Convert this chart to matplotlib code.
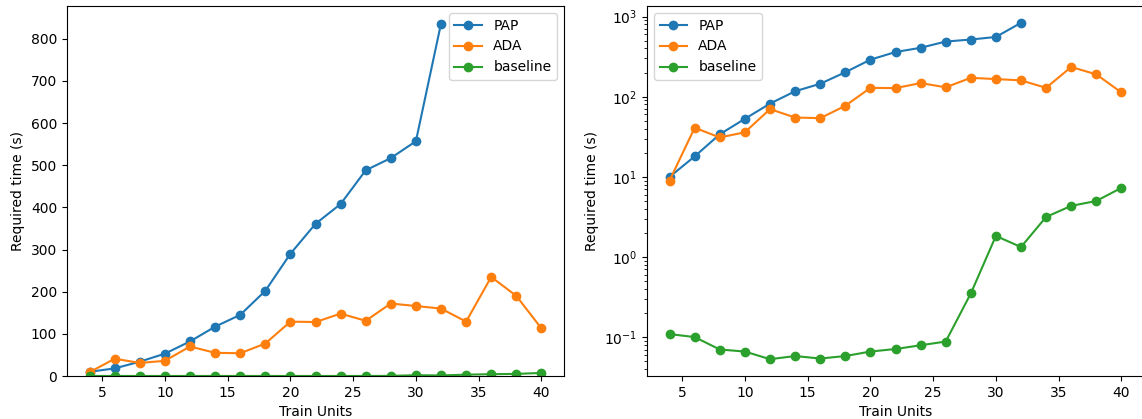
import matplotlib
matplotlib.use('Agg')
import matplotlib.pyplot as plt

units = [4, 6, 8, 10, 12, 14, 16, 18, 20, 22, 24, 26, 28, 30, 32, 34, 36, 38, 40]

pap_units = units[:15]
pap = [10, 18, 34, 53, 82, 117, 145, 202, 290, 361, 408, 488, 517, 557, 836]
ada = [9, 41, 31, 36, 70, 55, 54, 77, 129, 128, 148, 131, 172, 166, 160, 129, 235, 190, 113]
baseline = [0.109, 0.1, 0.07, 0.066, 0.053, 0.058, 0.054, 0.058, 0.066, 0.071,
            0.079, 0.088, 0.35, 1.83, 1.33, 3.16, 4.34, 5.0, 7.29]

W, H = 1142, 419
fig = plt.figure(figsize=(W / 100, H / 100), dpi=100)
ax1 = fig.add_axes([67 / W, 43 / H, 497 / W, 370 / H])
ax2 = fig.add_axes([647 / W, 43 / H, 497 / W, 370 / H])

for ax in (ax1, ax2):
    ax.plot(pap_units, pap, marker='o', label='PAP')
    ax.plot(units, ada, marker='o', label='ADA')
    ax.plot(units, baseline, marker='o', label='baseline')
    ax.set_xlabel('Train Units')
    ax.set_ylabel('Required time (s)')

ax1.set_ylim(bottom=0)
ax1.legend(loc='upper right')

ax2.set_yscale('log')
ax2.legend(loc='upper left')

fig.savefig('out.png', dpi=100)
